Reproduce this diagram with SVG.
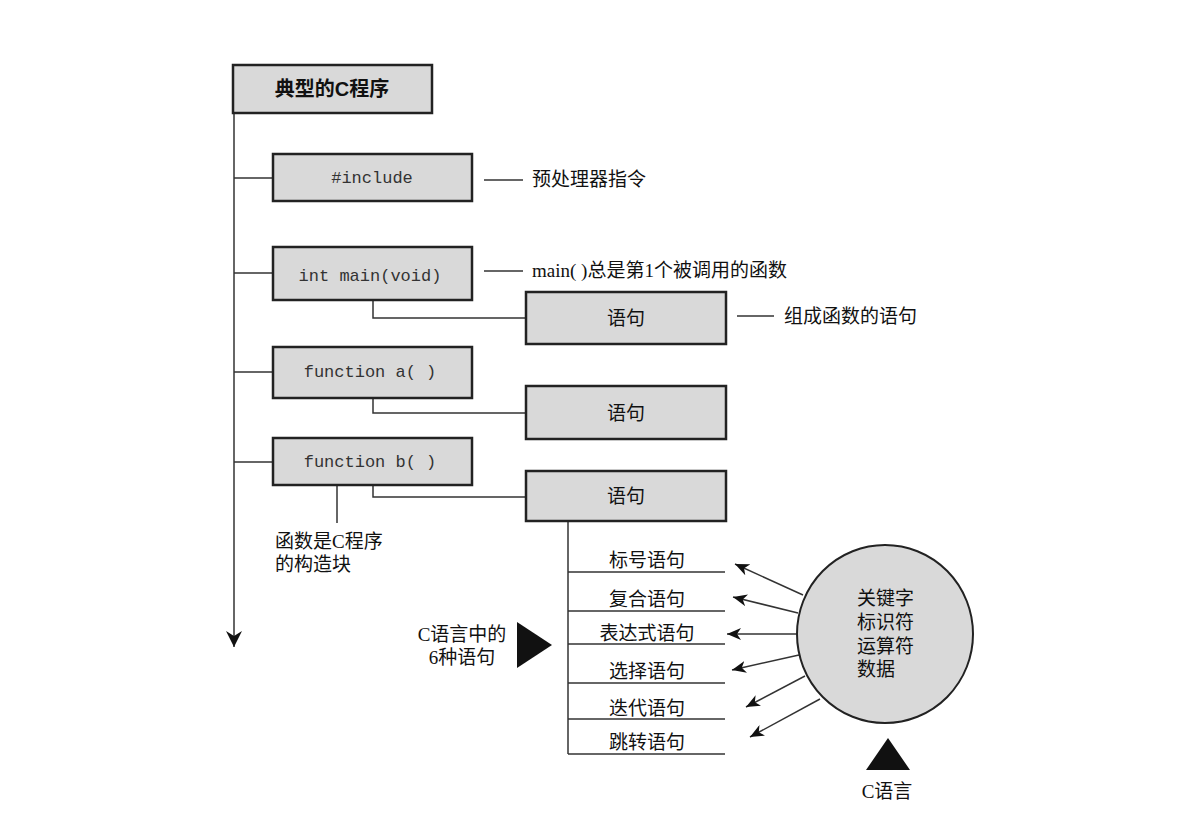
<svg xmlns="http://www.w3.org/2000/svg" width="1185" height="816" viewBox="0 0 1185 816">
<defs>
<style>
.box{fill:#d9d9d9;stroke:#222;stroke-width:2.5}
.ln{fill:none;stroke:#333;stroke-width:1.5}
.code{font-family:"Liberation Mono","DejaVu Sans Mono",monospace;font-size:17px;fill:#333}
.cn{font-family:"Liberation Serif","Noto Sans CJK SC",serif;font-size:19px;fill:#111}
.bold{font-family:"Liberation Sans","Noto Sans CJK SC",sans-serif;font-size:20px;font-weight:bold;fill:#111}
.tri{fill:#111}
</style>
<marker id="ah" markerUnits="userSpaceOnUse" markerWidth="16" markerHeight="12" refX="14" refY="6" orient="auto">
<path d="M0,0 L14,6 L0,12 L4,6 Z" fill="#111"/>
</marker>
<marker id="ahd" markerUnits="userSpaceOnUse" markerWidth="18" markerHeight="16" refX="16" refY="8" orient="auto">
<path d="M0,0 L16,8 L0,16 L5,8 Z" fill="#111"/>
</marker>
</defs>
<rect width="1185" height="816" fill="#fff"/>

<g id="connectors">
<path class="ln" d="M234,113 V647" marker-end="url(#ahd)"/>
<path class="ln" d="M234,178 H273"/>
<path class="ln" d="M234,273 H273"/>
<path class="ln" d="M234,372 H273"/>
<path class="ln" d="M234,462 H273"/>
<path class="ln" d="M373,300 V318 H526"/>
<path class="ln" d="M373,398 V413 H526"/>
<path class="ln" d="M373,485 V497 H526"/>
<path class="ln" d="M337,485 V523"/>
<path class="ln" d="M484,180 H523"/>
<path class="ln" d="M484,271 H523"/>
<path class="ln" d="M737,316 H774"/>
<path class="ln" d="M568,521 V754"/>
<path class="ln" d="M568,572 H725"/>
<path class="ln" d="M568,611 H725"/>
<path class="ln" d="M568,644 H725"/>
<path class="ln" d="M568,683 H725"/>
<path class="ln" d="M568,719 H725"/>
<path class="ln" d="M568,754 H725"/>
<path class="ln" d="M803,595 L735,564" marker-end="url(#ah)"/>
<path class="ln" d="M798,613 L733,597" marker-end="url(#ah)"/>
<path class="ln" d="M797,634 L727,634" marker-end="url(#ah)"/>
<path class="ln" d="M799,655 L732,670" marker-end="url(#ah)"/>
<path class="ln" d="M805,676 L746,707" marker-end="url(#ah)"/>
<path class="ln" d="M820,699 L750,737" marker-end="url(#ah)"/>
</g>

<g id="program">
<rect class="box" x="233" y="65" width="199" height="48"/>
<text class="bold" x="332" y="96" text-anchor="middle">典型的C程序</text>
</g>

<g id="include">
<rect class="box" x="273" y="154" width="199" height="47"/>
<text class="code" x="372" y="183" text-anchor="middle">#include</text>
</g>
<g id="include-label">
<text class="cn" x="532" y="186">预处理器指令</text>
</g>

<g id="main">
<rect class="box" x="273" y="247" width="199" height="53"/>
<text class="code" x="370" y="281" text-anchor="middle">int main(void)</text>
</g>
<g id="main-label">
<text class="cn" x="532" y="277">main( )总是第1个被调用的函数</text>
</g>

<g id="stmt1">
<rect class="box" x="526" y="292" width="200" height="52"/>
<text class="cn" x="626" y="325" text-anchor="middle" font-size="20">语句</text>
</g>
<g id="stmt1-label">
<text class="cn" x="784" y="323">组成函数的语句</text>
</g>

<g id="funca">
<rect class="box" x="273" y="347" width="199" height="51"/>
<text class="code" x="370" y="377" text-anchor="middle">function a( )</text>
</g>

<g id="stmt2">
<rect class="box" x="526" y="386" width="200" height="53"/>
<text class="cn" x="626" y="420" text-anchor="middle" font-size="20">语句</text>
</g>

<g id="funcb">
<rect class="box" x="273" y="438" width="199" height="47"/>
<text class="code" x="370" y="467" text-anchor="middle">function b( )</text>
</g>

<g id="stmt3">
<rect class="box" x="526" y="471" width="200" height="50"/>
<text class="cn" x="626" y="503" text-anchor="middle" font-size="20">语句</text>
</g>

<g id="block-label">
<text class="cn" x="275" y="548">函数是C程序</text>
<text class="cn" x="275" y="571">的构造块</text>
</g>

<g id="six-statements">
<text class="cn" x="647" y="567" text-anchor="middle">标号语句</text>
<text class="cn" x="647" y="606" text-anchor="middle">复合语句</text>
<text class="cn" x="647" y="640" text-anchor="middle">表达式语句</text>
<text class="cn" x="647" y="678" text-anchor="middle">选择语句</text>
<text class="cn" x="647" y="715" text-anchor="middle">迭代语句</text>
<text class="cn" x="647" y="749" text-anchor="middle">跳转语句</text>
</g>

<g id="six-label">
<text class="cn" x="462" y="641" text-anchor="middle">C语言中的</text>
<text class="cn" x="462" y="664" text-anchor="middle">6种语句</text>
<polygon class="tri" points="517,622 517,668 552,645"/>
</g>

<g id="language">
<ellipse cx="885" cy="634" rx="88" ry="89" fill="#d9d9d9" stroke="#222" stroke-width="2"/>
<text class="cn" x="857" y="605" font-size="20">关键字</text>
<text class="cn" x="857" y="629" font-size="20">标识符</text>
<text class="cn" x="857" y="653" font-size="20">运算符</text>
<text class="cn" x="857" y="676" font-size="20">数据</text>
</g>

<g id="language-label">
<polygon class="tri" points="888,738 910,770 866,770"/>
<text class="cn" x="887" y="798" text-anchor="middle">C语言</text>
</g>
</svg>
